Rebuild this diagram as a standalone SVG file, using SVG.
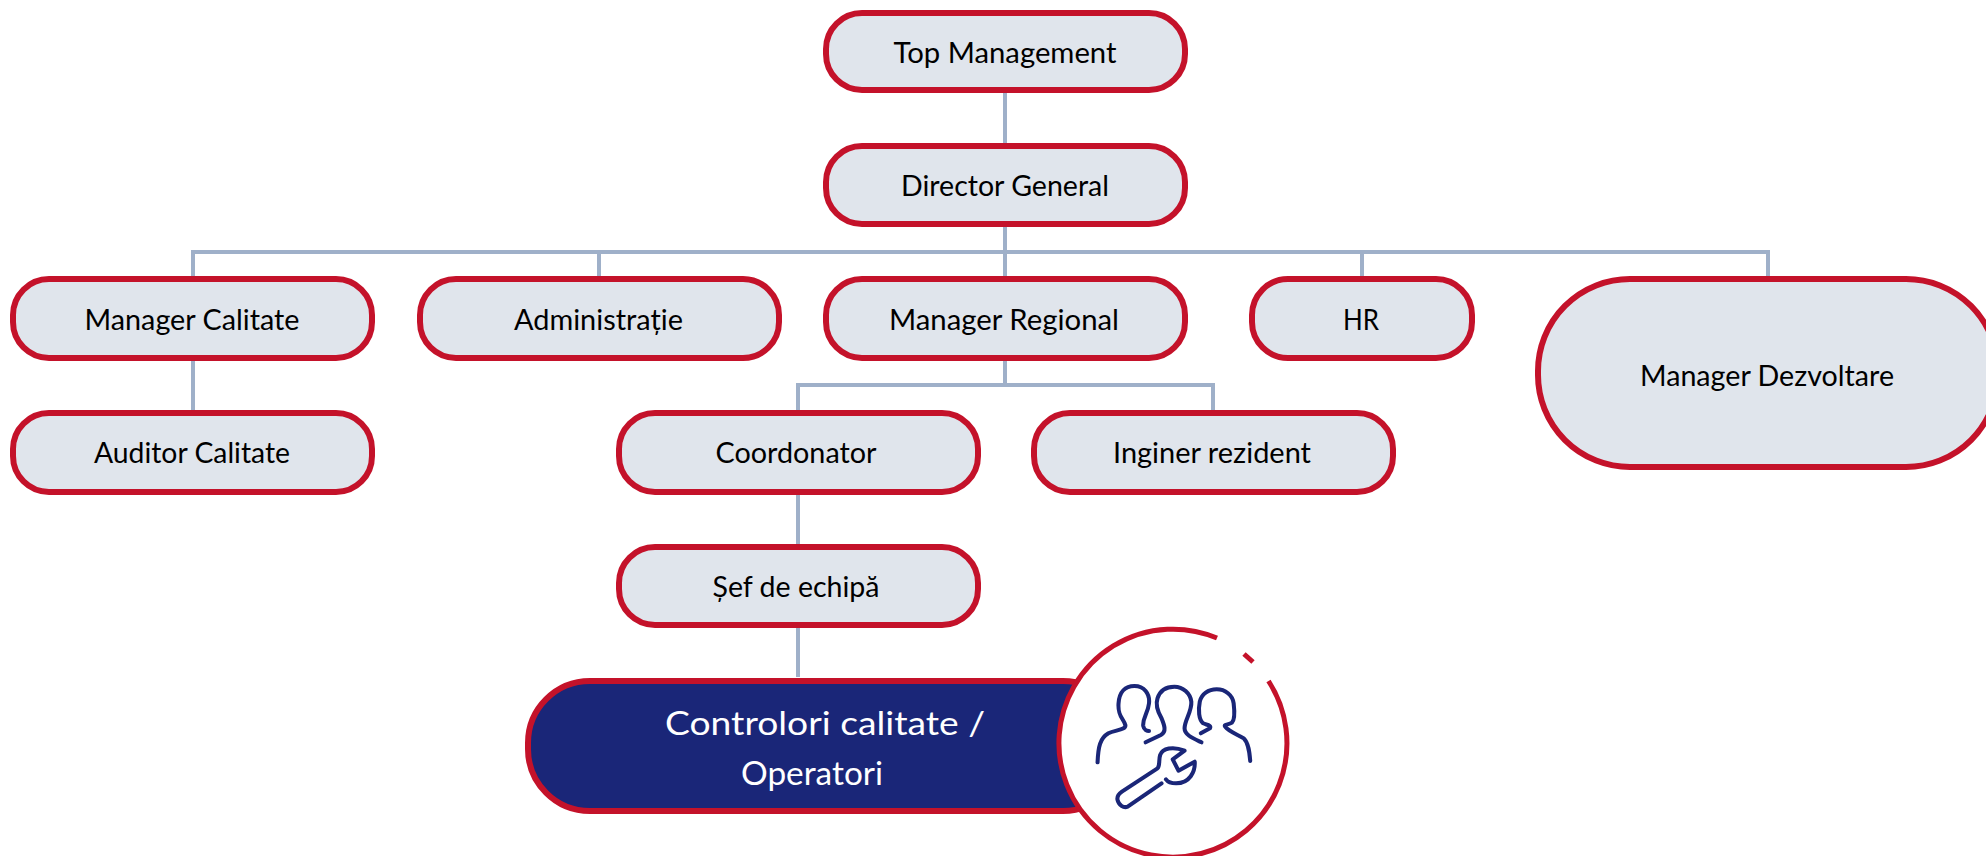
<svg xmlns="http://www.w3.org/2000/svg" width="1986" height="856" viewBox="0 0 1986 856">
<style>
.n{fill:#e0e5ec;stroke:#c4122a;stroke-width:6}
.t{font-family:Lato,"Liberation Sans",sans-serif;font-size:28px;fill:#000;text-anchor:middle}
.w{font-family:Lato,"Liberation Sans",sans-serif;font-size:32px;fill:#fff;text-anchor:middle}
.c{fill:none;stroke:#9fb0c9;stroke-width:4}
.i{fill:none;stroke:#1a2678;stroke-width:12;stroke-linecap:round;stroke-linejoin:round}
.r{fill:none;stroke:#c4122a;stroke-width:5}
</style>
<rect width="1986" height="856" fill="#fff"/>
<g id="connectors">
<path class="c" d="M1005 91V146M1005 225V277M193 277V252H1768V277M599 252V277M1362 252V277"/>
<path class="c" d="M193 360V411M1005 360V385M798 411V385H1213V411M798 494V546M798 626V677"/>
</g>
<g id="top-management"><rect class="n" x="826" y="13" width="359" height="77" rx="36"/><text class="t" x="1005" y="63" textLength="223" lengthAdjust="spacingAndGlyphs">Top Management</text></g>
<g id="director-general"><rect class="n" x="826" y="146" width="359" height="78" rx="36"/><text class="t" x="1005" y="196" textLength="208" lengthAdjust="spacingAndGlyphs">Director General</text></g>
<g id="manager-calitate"><rect class="n" x="13" y="279" width="359" height="79" rx="36"/><text class="t" x="192" y="330" textLength="215" lengthAdjust="spacingAndGlyphs">Manager Calitate</text></g>
<g id="administratie"><rect class="n" x="420" y="279" width="359" height="79" rx="36"/><text class="t" x="598.500" y="330" textLength="169" lengthAdjust="spacingAndGlyphs">Administrație</text></g>
<g id="manager-regional"><rect class="n" x="826" y="279" width="359" height="79" rx="36"/><text class="t" x="1004" y="330" textLength="230" lengthAdjust="spacingAndGlyphs">Manager Regional</text></g>
<g id="hr"><rect class="n" x="1252" y="279" width="220" height="79" rx="36"/><text class="t" x="1361" y="330" textLength="36" lengthAdjust="spacingAndGlyphs">HR</text></g>
<g id="manager-dezvoltare"><rect class="n" x="1538" y="279" width="460" height="188" rx="92"/><text class="t" x="1767" y="386" textLength="254" lengthAdjust="spacingAndGlyphs">Manager Dezvoltare</text></g>
<g id="auditor-calitate"><rect class="n" x="13" y="413" width="359" height="79" rx="36"/><text class="t" x="192" y="463" textLength="196" lengthAdjust="spacingAndGlyphs">Auditor Calitate</text></g>
<g id="coordonator"><rect class="n" x="619" y="413" width="359" height="79" rx="36"/><text class="t" x="796" y="463" textLength="161" lengthAdjust="spacingAndGlyphs">Coordonator</text></g>
<g id="inginer-rezident"><rect class="n" x="1034" y="413" width="359" height="79" rx="36"/><text class="t" x="1212" y="463" textLength="198" lengthAdjust="spacingAndGlyphs">Inginer rezident</text></g>
<g id="sef-de-echipa"><rect class="n" x="619" y="547" width="359" height="78" rx="36"/><text class="t" x="796" y="597" textLength="167" lengthAdjust="spacingAndGlyphs">Șef de echipă</text></g>
<g id="controlori-operatori">
<rect x="528" y="681" width="597" height="130" rx="62" fill="#1a2678" stroke="#c4122a" stroke-width="6"/>
<text class="w" x="825" y="735" textLength="320" lengthAdjust="spacingAndGlyphs">Controlori calitate /</text>
<text class="w" x="812" y="785" textLength="142" lengthAdjust="spacingAndGlyphs">Operatori</text>
</g>
<g id="icon-badge">
<circle cx="1172" cy="743" r="114" fill="#fff"/>
<path class="r" d="M1268.500 681A114 114 0 1 1 1217 638M1244 654L1253 662"/>
<g transform="translate(1039 620) scale(.3385 .3333)">
<path class="i" d="M173 427C175 380 180 355 205 340C225 330 258 330 255 315C250 295 232 290 235 250C237 215 255 198 282 198C310 198 328 220 325 250C322 280 305 295 308 318C310 330 320 333 325 333"/>
<path class="i" d="M315 367L360 345C378 335 370 315 362 295C348 270 345 250 350 235C358 210 378 200 400 200C425 200 447 220 450 245C452 275 430 300 430 325C430 345 455 355 480 367"/>
<path class="i" d="M478 340L505 325C510 315 495 315 485 310C472 300 470 270 475 245C480 222 500 208 525 208C550 208 572 225 575 250C578 275 578 300 570 308C560 315 545 312 550 320C560 335 590 345 605 355C620 370 622 400 624 423"/>
<path class="i" d="M362 490L262 560C250 565 235 555 232 540C230 530 235 522 245 515L350 445C358 438 353 420 358 405C365 385 395 378 430 392L395 418L412 452L460 425C462 455 445 490 405 490C390 490 380 485 375 478"/>
</g>
</g>
</svg>
